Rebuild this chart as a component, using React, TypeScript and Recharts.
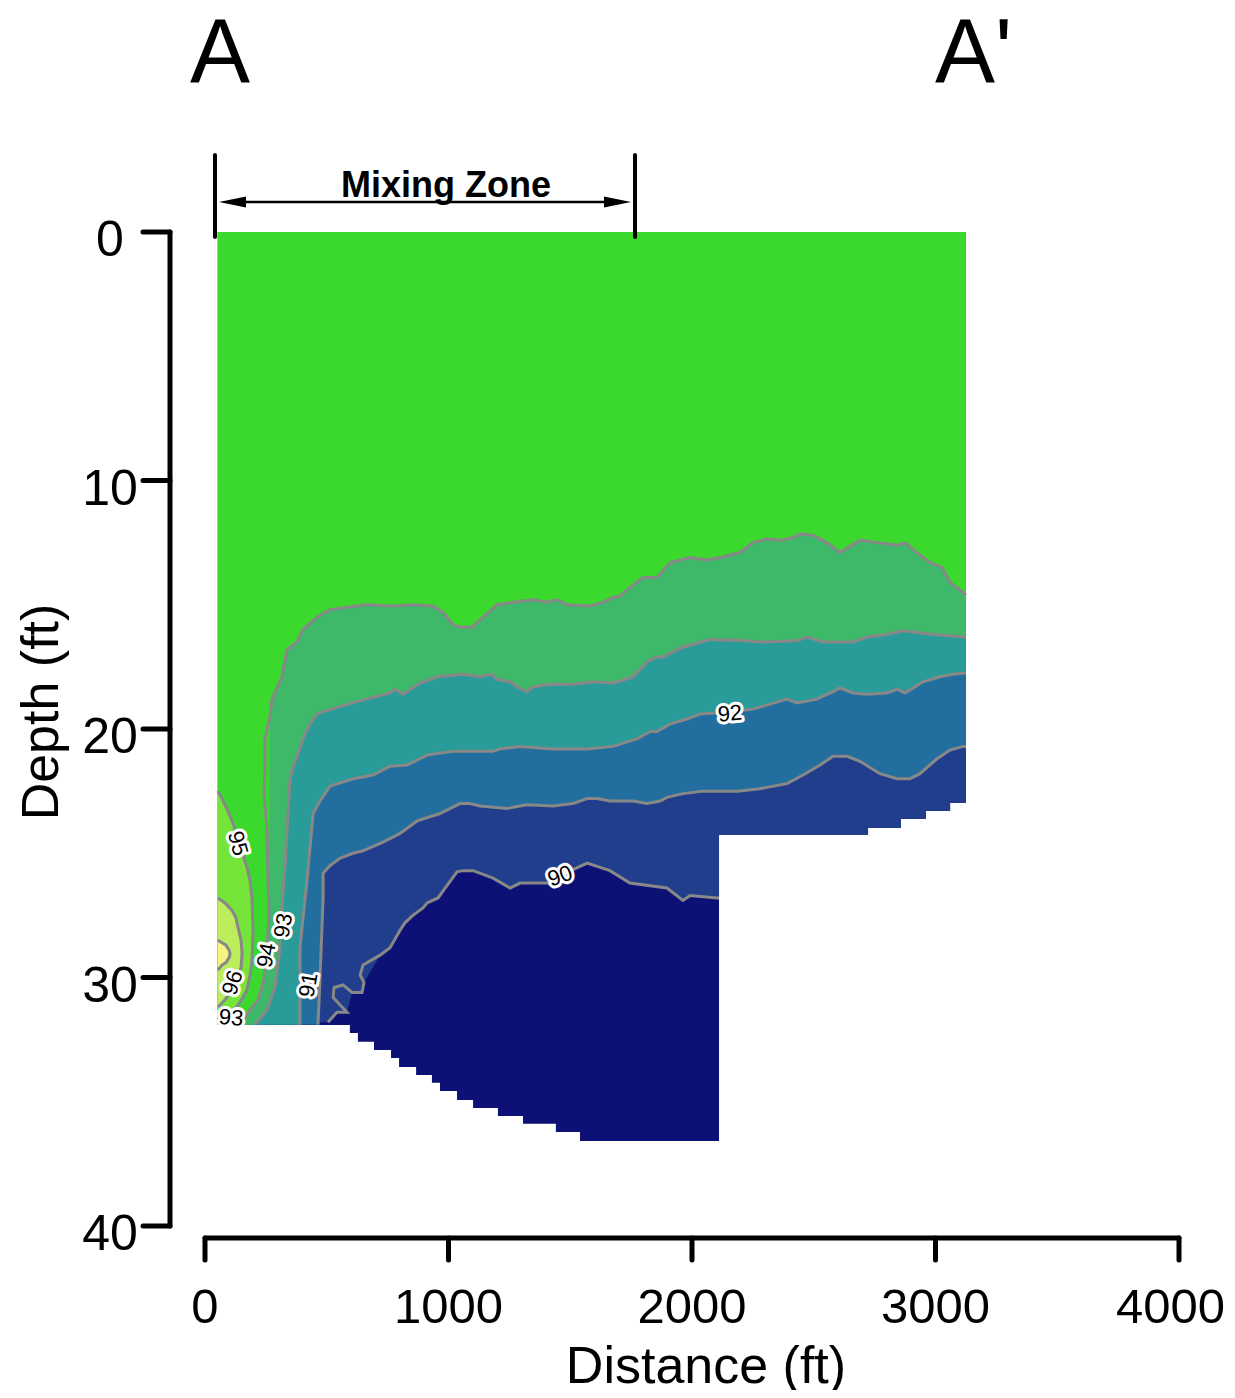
import React from 'react';
import { ComposedChart, Area, Line, XAxis, YAxis, Scatter, ReferenceLine } from 'recharts';

type P = [number, number];
type Band = [number, number, number];

const FONT = '"Liberation Sans", Arial, sans-serif';

// ---------- data ----------
const distanceTicks = [0, 1000, 2000, 3000, 4000];
const depthTicks = [0, 10, 20, 30, 40];
const mixingZoneFt = [41, 1766];

// channel bottom, stepped: depth holds from x until next x
const bottomSteps: P[] = [
  [53, 31.91], [595, 32.23], [628, 32.59], [694, 32.92], [764, 33.24], [797, 33.6],
  [867, 33.92], [932, 34.24], [965, 34.57], [1035, 34.93], [1101, 35.25], [1203, 35.57],
  [1306, 35.89], [1441, 36.22], [1540, 36.58], [2111, 24.26], [2723, 23.98], [2858, 23.62],
  [2961, 23.3], [3060, 22.98], [3125, 22.98],
];

const c94: P[] = [
  [144, 31.9], [177, 31.4], [218, 30.9], [242, 30.1], [255, 28.9], [263, 27.4], [259, 26.1],
  [255, 24.1], [242, 22.6], [246, 21.6], [246, 20.4], [267, 19.5], [275, 18.8], [316, 17.9],
  [337, 16.8], [378, 16.5], [402, 16.0], [460, 15.5], [513, 15.2], [583, 15.1], [665, 15.0],
  [772, 15.05], [854, 15.0], [936, 15.05], [977, 15.3], [1018, 15.8], [1047, 15.9], [1097, 15.9],
  [1142, 15.5], [1199, 15.0], [1265, 14.9], [1347, 14.8], [1405, 14.9], [1446, 14.8], [1487, 15.0],
  [1581, 15.05], [1635, 14.9], [1676, 14.7], [1704, 14.65], [1745, 14.3], [1799, 13.9], [1856, 13.9],
  [1910, 13.3], [1992, 13.1], [2062, 13.2], [2115, 13.1], [2197, 12.9], [2251, 12.5], [2308, 12.35],
  [2361, 12.4], [2415, 12.3], [2444, 12.15], [2497, 12.2], [2554, 12.5], [2608, 12.9], [2690, 12.4],
  [2760, 12.5], [2842, 12.6], [2875, 12.5], [2924, 12.9], [2977, 13.3], [3027, 13.5], [3060, 14.1],
  [3113, 14.5], [3125, 14.6],
];

const c93: P[] = [
  [205, 31.9], [255, 31.3], [287, 30.4], [308, 28.8], [316, 27.2], [329, 25.4], [341, 23.4],
  [349, 22.05], [357, 21.65], [378, 21.1], [402, 20.4], [431, 19.8], [460, 19.4], [485, 19.3],
  [554, 19.1], [624, 18.9], [760, 18.55], [780, 18.4], [813, 18.6], [883, 18.15], [953, 17.9],
  [1060, 17.8], [1129, 17.9], [1179, 17.8], [1199, 18.0], [1253, 18.1], [1281, 18.3], [1322, 18.5],
  [1347, 18.3], [1417, 18.2], [1511, 18.2], [1593, 18.1], [1676, 18.15], [1758, 17.9], [1815, 17.3],
  [1856, 17.1], [1881, 17.1], [1963, 16.7], [2074, 16.4], [2226, 16.45], [2279, 16.5], [2431, 16.45],
  [2472, 16.3], [2538, 16.5], [2661, 16.5], [2719, 16.3], [2801, 16.2], [2866, 16.05], [2908, 16.1],
  [2990, 16.2], [3125, 16.3],
];

const c92: P[] = [
  [390, 31.9], [390, 28.8], [419, 26.1], [444, 23.4], [472, 22.9], [513, 22.3], [608, 22.0],
  [690, 21.85], [760, 21.5], [830, 21.45], [912, 21.05], [1018, 20.9], [1183, 20.9], [1211, 20.8],
  [1294, 20.7], [1429, 20.8], [1569, 20.8], [1676, 20.7], [1774, 20.4], [1828, 20.1], [1856, 20.1],
  [1910, 19.8], [1979, 19.6], [2033, 19.4], [2115, 19.35], [2251, 19.2], [2320, 19.0], [2390, 18.8],
  [2431, 18.95], [2513, 18.8], [2579, 18.5], [2608, 18.35], [2661, 18.55], [2719, 18.6], [2801, 18.55],
  [2842, 18.4], [2875, 18.55], [2908, 18.35], [2949, 18.1], [3018, 17.9], [3072, 17.8], [3125, 17.75],
];

const c91: P[] = [
  [464, 31.9], [472, 30.1], [485, 26.8], [485, 25.8], [513, 25.5], [554, 25.2], [608, 25.0],
  [649, 24.9], [731, 24.55], [801, 24.2], [871, 23.7], [965, 23.4], [1047, 23.0], [1088, 23.0],
  [1129, 23.1], [1240, 23.2], [1322, 23.05], [1429, 23.1], [1511, 23.0], [1569, 22.8], [1610, 22.8],
  [1663, 22.9], [1758, 22.9], [1815, 23.0], [1869, 22.9], [1897, 22.75], [1963, 22.6], [2045, 22.5],
  [2185, 22.5], [2279, 22.4], [2390, 22.2], [2456, 21.85], [2526, 21.45], [2579, 21.1], [2637, 21.1],
  [2690, 21.3], [2772, 21.8], [2842, 22.0], [2895, 22.0], [2936, 21.8], [3006, 21.2], [3060, 20.85],
  [3113, 20.7], [3125, 20.7],
];

const c90: P[] = [
  [505, 31.8], [542, 31.4], [583, 31.4], [554, 31.1], [526, 30.8], [530, 30.4], [567, 30.3],
  [604, 30.6], [645, 30.6], [653, 30.2], [637, 29.9], [649, 29.5], [719, 29.1], [760, 28.8],
  [801, 28.1], [821, 27.8], [854, 27.5], [895, 27.2], [912, 27.0], [957, 26.8], [986, 26.4],
  [1035, 25.75], [1060, 25.7], [1101, 25.7], [1183, 26.0], [1253, 26.4], [1294, 26.2], [1405, 26.2],
  [1458, 25.9], [1569, 25.4], [1663, 25.7], [1745, 26.2], [1897, 26.4], [1963, 26.9], [1992, 26.7],
  [2103, 26.8], [2111, 26.8],
];

// closed warm pockets at the outfall: [x, upper depth, lower depth]
const c95: Band[] = [
  [53, 22.5, 31.8], [70, 22.8, 31.6], [94, 23.3, 31.5], [115, 23.8, 31.35], [136, 24.5, 31.1],
  [156, 25.1, 30.8], [172, 25.55, 30.5], [185, 26.1, 29.9], [193, 26.8, 29.3], [197, 28.1, 28.2],
];
const c96: Band[] = [
  [53, 26.8, 31.2], [82, 27.0, 30.9], [111, 27.3, 30.5], [127, 27.6, 30.2], [136, 28.0, 29.9],
  [148, 28.5, 29.6], [152, 29.0, 29.05],
];
const c97: Band[] = [
  [53, 28.5, 29.7], [70, 28.6, 29.5], [86, 28.7, 29.4], [99, 28.9, 29.2], [103, 29.05, 29.05],
];

const labelTexts = ['95', '94', '93', '96', '93', '91', '92', '90'];
const labelX = [136, 251, 320, 111, 107, 423, 2156, 1458];
const labelDepth = [24.6, 29.1, 27.9, 30.2, 31.6, 30.3, 19.36, 25.9];

// ---------- styles ----------
const labelAngles = [75, -80, -80, -72, 5, -80, -5, -20];
const COL = {
  navy: '#0d1175',
  b90: '#203e8b',
  b91: '#226e9e',
  b92: '#299b98',
  b93: '#3eb869',
  b94: '#3bd82d',
  b95: '#76e53a',
  b96: '#bcee5c',
  b97: '#f4f57c',
  line: '#888888',
};
const CHART_W = 1227;
const CHART_H = 1382;
const TICK_FONT = 49;

// ---------- derived tables ----------
const bottomCorners: P[] = bottomSteps.flatMap(([x, d], i) =>
  i < bottomSteps.length - 1 ? ([[x, d], [bottomSteps[i + 1][0], d]] as P[]) : ([[x, d]] as P[])
);

const monotone = (pts: P[]): P[] => {
  let m = -Infinity;
  return pts.filter(([x]) => {
    if (x >= m) {
      m = x;
      return true;
    }
    return false;
  });
};

const layerRows = (contour: P[]) => {
  const c = monotone(contour);
  const first = c[0][0];
  const last = c[c.length - 1][0];
  const pre = bottomCorners.filter(([x]) => x < first);
  const post = bottomCorners.filter(
    ([x], i) => x > last || (x === last && i > 0 && bottomCorners[i - 1][0] === last)
  );
  return [...pre, ...c, ...post].map(([x, d]) => ({ x, r: [0, d] }));
};

const lineRows = (pts: P[]) => pts.map(([x, d]) => ({ x, d }));
const bandRows = (b: Band[]) => b.map(([x, u, l]) => ({ x, r: [u, l] }));
const bandLine = (b: Band[]) => [
  ...b.map(([x, u]) => ({ x, d: u })),
  ...[...b].reverse().map(([x, , l]) => ({ x, d: l })),
];

const baseRows = bottomCorners.map(([x, d]) => ({ x, r: [0, d] }));
const labelRows = labelTexts.map((t, i) => ({ x: labelX[i], d: labelDepth[i], t, a: labelAngles[i] }));

// ---------- renderers ----------
const YTick = (props: any) => {
  const { x, y, payload } = props;
  return (
    <g>
      <line x1={x - 35} x2={x - 62} y1={y} y2={y} stroke="#000" strokeWidth={5} strokeLinecap="round" />
      <text x={x - 95} y={y + 7} textAnchor="middle" dominantBaseline="central" fontSize={50} fontFamily={FONT} fill="#000">
        {payload.value}
      </text>
    </g>
  );
};

const XTick = (props: any) => {
  const { x, y, payload } = props;
  const half = String(payload.value).length * 0.278 * TICK_FONT;
  const tx = Math.min(x, CHART_W - 10 - half);
  return (
    <g>
      <line x1={x} x2={x} y1={y + 12} y2={y + 34} stroke="#000" strokeWidth={5} strokeLinecap="round" />
      <text x={tx} y={y + 80} textAnchor="middle" dominantBaseline="central" fontSize={TICK_FONT} fontFamily={FONT} fill="#000">
        {payload.value}
      </text>
    </g>
  );
};

const ContourLabel = (props: any) => {
  const { cx, cy, payload } = props;
  if (cx == null || cy == null) return <g />;
  return (
    <text
      x={cx}
      y={cy}
      transform={`rotate(${payload.a} ${cx} ${cy})`}
      textAnchor="middle"
      dominantBaseline="central"
      fontSize={22}
      fontFamily={FONT}
      fill="#000"
      stroke="#fff"
      strokeWidth={6}
      strokeLinejoin="round"
      paintOrder="stroke"
    >
      {payload.t}
    </text>
  );
};

const ArrowShape = (props: any) => {
  const { x1, y1, x2 } = props;
  const a = x1 + 4;
  const b = x2 - 4;
  return (
    <g>
      <line x1={a + 20} x2={b - 20} y1={y1} y2={y1} stroke="#000" strokeWidth={2.5} />
      <polygon points={`${a},${y1} ${a + 27},${y1 - 5.5} ${a + 27},${y1 + 5.5}`} fill="#000" />
      <polygon points={`${b},${y1} ${b - 27},${y1 - 5.5} ${b - 27},${y1 + 5.5}`} fill="#000" />
      <text x={(a + b) / 2 + 21} y={y1 - 5} textAnchor="middle" fontSize={36} fontWeight="bold" fontFamily={FONT} fill="#000">
        Mixing Zone
      </text>
    </g>
  );
};

const layers: { rows: any[]; color: string }[] = [
  { rows: layerRows(c90), color: COL.b90 },
  { rows: layerRows(c91), color: COL.b91 },
  { rows: layerRows(c92), color: COL.b92 },
  { rows: layerRows(c93), color: COL.b93 },
  { rows: layerRows(c94), color: COL.b94 },
];
const pockets: { rows: any[]; color: string }[] = [
  { rows: bandRows(c95), color: COL.b95 },
  { rows: bandRows(c96), color: COL.b96 },
  { rows: bandRows(c97), color: COL.b97 },
];
const contourLines = [
  lineRows(c94), lineRows(c93), lineRows(c92), lineRows(c91), lineRows(c90),
  bandLine(c95), bandLine(c96), bandLine(c97),
];

export default function App() {
  const W = CHART_W;
  const H = CHART_H;
  return (
    <div style={{ position: 'relative', width: W, height: H, fontFamily: FONT }}>
      <ComposedChart width={W} height={H} margin={{ top: 224, right: 56, bottom: 14, left: 47 }} style={{ overflow: 'visible' }}>
        <XAxis
          type="number"
          dataKey="x"
          domain={[0, 4000]}
          ticks={distanceTicks}
          interval={0}
          allowDataOverflow
          height={150}
          tickSize={0}
          tickMargin={0}
          tickLine={false}
          axisLine={{ stroke: '#000', strokeWidth: 5, strokeLinecap: 'round', transform: 'translate(0,12)' } as any}
          tick={XTick}
        />
        <YAxis
          type="number"
          dataKey="d"
          domain={[0, 40]}
          reversed
          ticks={depthTicks}
          interval={0}
          allowDataOverflow
          width={150}
          tickSize={0}
          tickMargin={0}
          tickLine={false}
          axisLine={{ stroke: '#000', strokeWidth: 5, strokeLinecap: 'round', transform: 'translate(-35,0)' } as any}
          tick={YTick}
        />
        <Area data={baseRows} dataKey="r" type="linear" fill={COL.navy} fillOpacity={1} stroke="none" isAnimationActive={false} dot={false} activeDot={false} />
        {layers.map((l, i) => (
          <Area key={`l${i}`} data={l.rows} dataKey="r" type="linear" fill={l.color} fillOpacity={1} stroke="none" isAnimationActive={false} dot={false} activeDot={false} />
        ))}
        {pockets.map((l, i) => (
          <Area key={`p${i}`} data={l.rows} dataKey="r" type="linear" fill={l.color} fillOpacity={1} stroke="none" isAnimationActive={false} dot={false} activeDot={false} />
        ))}
        {contourLines.map((rows, i) => (
          <Line key={`c${i}`} data={rows} dataKey="d" type="linear" stroke={COL.line} strokeWidth={3} dot={false} activeDot={false} isAnimationActive={false} />
        ))}
        <Scatter data={labelRows} dataKey="d" shape={ContourLabel} isAnimationActive={false} />
        <ReferenceLine
          segment={[{ x: mixingZoneFt[0], y: -3.1 }, { x: mixingZoneFt[0], y: 0.2 }]}
          stroke="#000"
          strokeWidth={4}
          strokeLinecap="round"
          ifOverflow="visible"
        />
        <ReferenceLine
          segment={[{ x: mixingZoneFt[1], y: -3.1 }, { x: mixingZoneFt[1], y: 0.2 }]}
          stroke="#000"
          strokeWidth={4}
          strokeLinecap="round"
          ifOverflow="visible"
        />
        <ReferenceLine
          segment={[{ x: mixingZoneFt[0], y: -1.21 }, { x: mixingZoneFt[1], y: -1.21 }]}
          ifOverflow="visible"
          shape={ArrowShape}
        />
      </ComposedChart>
      <svg width={1235} height={1398} style={{ position: 'absolute', left: -8, top: -8, pointerEvents: 'none', overflow: 'visible' }}>
        <text x={190} y={82} fontSize={90} fontFamily={FONT} fill="#000">A</text>
        <text x={935} y={82} fontSize={90} fontFamily={FONT} fill="#000">A'</text>
        <text x={58} y={712} transform="rotate(-90 58 712)" textAnchor="middle" fontSize={52} fontFamily={FONT} fill="#000">
          Depth (ft)
        </text>
        <text x={706} y={1383} textAnchor="middle" fontSize={52} fontFamily={FONT} fill="#000">
          Distance (ft)
        </text>
      </svg>
    </div>
  );
}
